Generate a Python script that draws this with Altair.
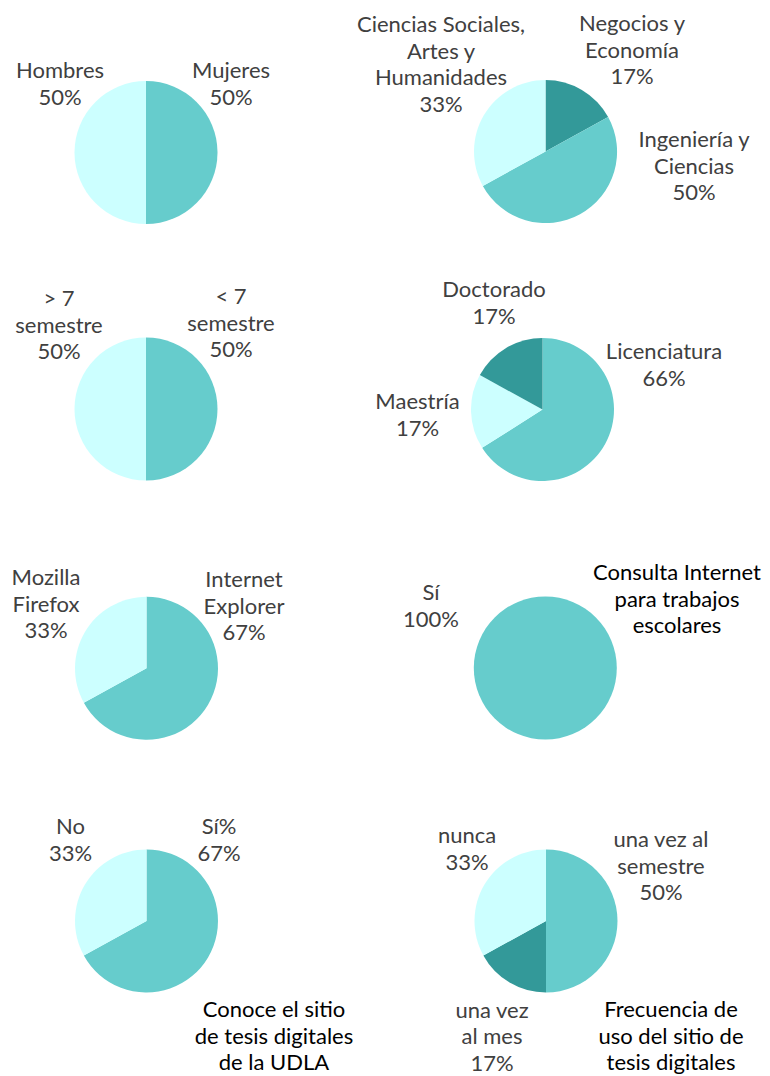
import altair as alt
import pandas as pd

# ---- data, slices listed clockwise from 12 o'clock ----
sexo_cats = ["Mujeres", "Hombres"]
sexo_vals = [50, 50]

area_cats = ["Negocios y\nEconomía", "Ingeniería y\nCiencias", "Ciencias Sociales,\nArtes y\nHumanidades"]
area_vals = [17, 50, 33]

semestre_cats = ["< 7\nsemestre", "> 7\nsemestre"]
semestre_vals = [50, 50]

nivel_cats = ["Licenciatura", "Maestría", "Doctorado"]
nivel_vals = [66, 17, 17]

navegador_cats = ["Internet\nExplorer", "Mozilla\nFirefox"]
navegador_vals = [67, 33]

consulta_cats = ["Sí"]
consulta_vals = [100]

conoce_cats = ["Sí%", "No"]
conoce_vals = [67, 33]

frecuencia_cats = ["una vez al\nsemestre", "una vez\nal mes", "nunca"]
frecuencia_vals = [50, 17, 33]

titulos = {
    5: "Consulta Internet\npara trabajos\nescolares",
    6: "Conoce el sitio\nde tesis digitales\nde la UDLA",
    7: "Frecuencia de\nuso del sitio de\ntesis digitales",
}

# ---- styles / layout ----
PAL = {"claro": "#CCFFFF", "medio": "#66CCCC", "oscuro": "#339999"}
FONT = "Lato"
FS = 22
LH = 26.7
LABEL_COLOR = "#404040"
R = 71.5
OFF = 8  # page margin

pies = [
    (sexo_cats, sexo_vals, ["medio", "claro"], (146, 152.5), [(231, 78), (60, 78)]),
    (area_cats, area_vals, ["oscuro", "medio", "claro"], (545.5, 151.5), [(632, 31), (694, 147), (441, 32)]),
    (semestre_cats, semestre_vals, ["medio", "claro"], (146, 409), [(231, 304), (59, 306)]),
    (nivel_cats, nivel_vals, ["medio", "claro", "oscuro"], (542.5, 409.5), [(664, 359), (417.5, 409), (494, 297)]),
    (navegador_cats, navegador_vals, ["medio", "claro"], (146.5, 668.3), [(244, 587), (46, 585)]),
    (consulta_cats, consulta_vals, ["medio"], (545.3, 668), [(431, 600)]),
    (conoce_cats, conoce_vals, ["medio", "claro"], (146.5, 921), [(219, 834), (70.5, 834)]),
    (frecuencia_cats, frecuencia_vals, ["medio", "oscuro", "claro"], (546, 921), [(661, 847), (492, 1017.5), (467, 843)]),
]
title_pos = {5: (677, 580), 6: (274, 1017), 7: (671, 1017)}

layers = []
for i, (cats, vals, shades, (cx, cy), lpos) in enumerate(pies):
    df = pd.DataFrame({"cat": cats, "pct": vals, "idx": list(range(len(cats)))})
    df["label"] = [f"{c}\n{v}%" for c, v in zip(cats, vals)]
    arc = alt.Chart(df).mark_arc(outerRadius=R).encode(
        theta=alt.Theta("pct:Q", stack=True, scale=alt.Scale(domain=[0, 100])),
        order=alt.Order("idx:Q"),
        color=alt.Color("cat:N", scale=alt.Scale(domain=cats, range=[PAL[s] for s in shades]), legend=None),
        x=alt.value(cx - OFF),
        y=alt.value(cy - OFF),
    )
    layers.append(arc)
    for j, (lx, ly) in enumerate(lpos):
        t = alt.Chart(df.iloc[[j]]).transform_calculate(
            lines="split(datum.label, '\\n')"
        ).mark_text(
            font=FONT, fontSize=FS, lineHeight=LH, color=LABEL_COLOR,
            align="center", baseline="alphabetic"
        ).encode(text="lines:N", x=alt.value(lx - OFF), y=alt.value(ly - OFF))
        layers.append(t)
    if i in titulos:
        tx, ty = title_pos[i]
        tdf = pd.DataFrame({"titulo": [titulos[i]]})
        tt = alt.Chart(tdf).transform_calculate(
            lines="split(datum.titulo, '\\n')"
        ).mark_text(
            font=FONT, fontSize=FS, lineHeight=LH, color="#000000",
            align="center", baseline="alphabetic"
        ).encode(text="lines:N", x=alt.value(tx - OFF), y=alt.value(ty - OFF))
        layers.append(tt)

chart = alt.layer(*layers).resolve_scale(
    color="independent", theta="independent"
).properties(
    width=754, height=1068, padding=0,
    autosize=alt.AutoSizeParams(type="none"),
).configure_view(stroke=None)

chart.save("out.html", embed_options={"renderer": "svg", "actions": False})
